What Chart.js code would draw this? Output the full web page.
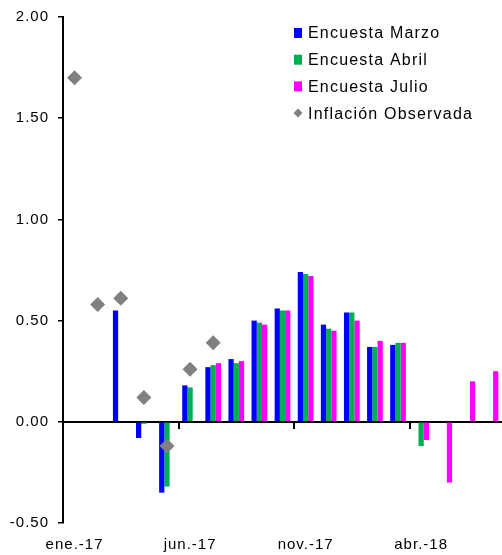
<!DOCTYPE html>
<html lang="es">
<head>
  <meta charset="UTF-8">
  <title>Encuestas de inflación</title>
  <script src="https://cdn.jsdelivr.net/npm/chart.js"></script>
  <style>
    html, body { margin: 0; padding: 0; background: #fff; }
    #wrap { width: 502px; height: 555px; }
  </style>
</head>
<body>
  <div id="wrap"><canvas id="chart" width="502" height="555"></canvas></div>

  <script>
    const months = ['ene.-17', 'feb.-17', 'mar.-17', 'abr.-17', 'may.-17', 'jun.-17', 'jul.-17',
      'ago.-17', 'sep.-17', 'oct.-17', 'nov.-17', 'dic.-17', 'ene.-18', 'feb.-18', 'mar.-18',
      'abr.-18', 'may.-18', 'jun.-18', 'jul.-18'];

    const encuestaMarzo = [null, null, 0.55, -0.08, -0.35, 0.18, 0.27, 0.31, 0.50, 0.56, 0.74,
      0.48, 0.54, 0.37, 0.38, null, null, null, null];
    const encuestaAbril = [null, null, null, -0.01, -0.32, 0.17, 0.28, 0.29, 0.49, 0.55, 0.73,
      0.46, 0.54, 0.37, 0.39, -0.12, null, null, null];
    const encuestaJulio = [null, null, null, null, null, null, 0.29, 0.30, 0.48, 0.55, 0.72,
      0.45, 0.50, 0.40, 0.39, -0.09, -0.30, 0.20, 0.25];
    const inflacionObservada = [1.70, 0.58, 0.61, 0.12, -0.12, 0.26, 0.39, null, null, null,
      null, null, null, null, null, null, null, null, null];

    const yTicks = [-0.5, 0, 0.5, 1.0, 1.5, 2.0];

    const FONT = "'Liberation Sans', Arial, sans-serif";

    // slightly spaced text like the original export
    const spacing = {
      id: 'spacing',
      beforeUpdate(chart) { chart.ctx.letterSpacing = '1px'; },
      beforeDraw(chart) { chart.ctx.letterSpacing = '1px'; }
    };

    // legend drawn inside the plot, top right
    const innerLegend = {
      id: 'innerLegend',
      afterDraw(chart) {
        const ctx = chart.ctx;
        const x0 = 294, y0 = 33, step = 26.7;
        ctx.save();
        ctx.font = '16px ' + FONT;
        ctx.letterSpacing = '1.2px';
        ctx.textBaseline = 'middle';
        chart.data.datasets.forEach((ds, i) => {
          const y = y0 + i * step;
          if (ds.type === 'line') {
            ctx.fillStyle = ds.pointBackgroundColor;
            ctx.beginPath();
            ctx.moveTo(x0 + 4, y - 4.5);
            ctx.lineTo(x0 + 8.5, y);
            ctx.lineTo(x0 + 4, y + 4.5);
            ctx.lineTo(x0 - 0.5, y);
            ctx.closePath();
            ctx.fill();
          } else {
            ctx.fillStyle = ds.backgroundColor;
            ctx.fillRect(x0, y - 5, 8, 10);
          }
          ctx.fillStyle = '#000';
          ctx.fillText(ds.label, x0 + 14, y + 1);
        });
        ctx.restore();
      }
    };

    const noSidePad = (s) => { s.paddingLeft = 0; s.paddingRight = 0; };

    const ctx = document.getElementById('chart').getContext('2d');
    const chart = new Chart(ctx, {
      type: 'bar',
      data: {
        labels: months,
        datasets: [
          { label: 'Encuesta Marzo', data: encuestaMarzo, backgroundColor: '#0000FF', order: 1 },
          { label: 'Encuesta Abril', data: encuestaAbril, backgroundColor: '#00B050', order: 1 },
          { label: 'Encuesta Julio', data: encuestaJulio, backgroundColor: '#FF00FF', order: 1 },
          {
            type: 'line', label: 'Inflación Observada', data: inflacionObservada,
            showLine: false, pointStyle: 'rectRot', pointRadius: 7.5,
            pointBackgroundColor: '#808080', pointBorderColor: '#808080', pointBorderWidth: 0,
            order: 0
          }
        ]
      },
      options: {
        responsive: false,
        animation: false,
        layout: { autoPadding: false, padding: { top: 17, left: 0, right: 0, bottom: 0 } },
        datasets: { bar: { categoryPercentage: 0.68, barPercentage: 1.0 } },
        plugins: {
          legend: { display: false },
          tooltip: { enabled: false }
        },
        scales: {
          x: {
            type: 'category',
            position: 'bottom',
            offset: true,
            grid: { display: false, drawTicks: false },
            border: { display: false },
            afterFit: (s) => { s.height = 32; noSidePad(s); },
            ticks: {
              autoSkip: false, maxRotation: 0, padding: 13,
              color: '#000', font: { family: FONT, size: 15 },
              callback: (v, i) => (i % 5 === 0 ? months[i] : '')
            }
          },
          x2: {
            type: 'category',
            position: { y: 0 },
            offset: true,
            afterFit: (s) => { s.height = 0; noSidePad(s); },
            grid: {
              offset: true, drawOnChartArea: false, drawTicks: true, tickLength: 6, lineWidth: 2,
              color: (c) => (c.index % 5 === 0 && c.index < months.length ? '#000' : 'rgba(0,0,0,0)')
            },
            border: { display: true, color: '#000', width: 2 },
            ticks: { display: false, callback: () => '' }
          },
          y: {
            min: -0.5, max: 2.0,
            afterBuildTicks: (s) => { s.ticks = yTicks.map(v => ({ value: v })); },
            afterFit: (s) => { s.width = 63; s.paddingTop = 0; s.paddingBottom = 0; },
            grid: { drawOnChartArea: false, drawTicks: true, tickLength: 5, color: '#000', lineWidth: 1.5 },
            border: { display: true, color: '#000', width: 2 },
            ticks: {
              padding: 9, color: '#000', font: { family: FONT, size: 15 },
              callback: (v) => Number(v).toFixed(2)
            }
          }
        }
      },
      plugins: [spacing, innerLegend]
    });
  </script>
</body>
</html>
